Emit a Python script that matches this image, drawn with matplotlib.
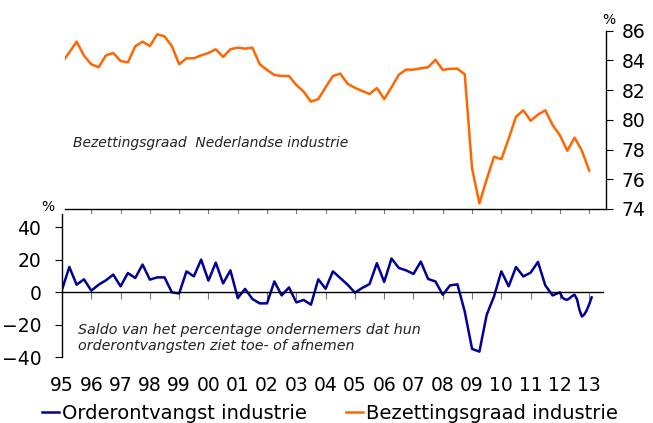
import numpy as np
import matplotlib
matplotlib.use('Agg')
import matplotlib.pyplot as plt
from matplotlib.lines import Line2D

# capacity utilisation, quarterly, 1995Q1 .. 2013Q1 (%)
bezetting = [83.85, 84.55, 85.26, 84.32, 83.74, 83.54, 84.34, 84.50, 83.96, 83.87,
             84.95, 85.26, 84.97, 85.76, 85.62, 84.97, 83.74, 84.14, 84.14, 84.34,
             84.50, 84.75, 84.23, 84.75, 84.86, 84.79, 84.86, 83.74, 83.36, 83.02,
             82.95, 82.95, 82.35, 81.90, 81.22, 81.40, 82.19, 82.95, 83.11, 82.43,
             82.16, 81.94, 81.74, 82.14, 81.40, 82.19, 83.04, 83.38, 83.38, 83.47,
             83.54, 84.04, 83.36, 83.44, 83.44, 83.07, 76.74, 74.38, 76.00, 77.52,
             77.35, 78.73, 80.21, 80.64, 79.94, 80.35, 80.64, 79.65, 78.96, 77.92,
             78.80, 77.92, 76.58]

# order intake balance, quarterly 1995Q1 .. 2011Q4
order_q = [1.4, 15.4, 4.5, 7.8, 0.8, 4.5, 7.2, 10.7, 3.5, 11.7,
           8.6, 16.9, 7.6, 9.0, 9.0, -0.2, -0.9, 12.7, 9.6, 19.9,
           7.0, 18.1, 5.3, 13.3, -3.7, 1.9, -4.3, -7.0, -7.0, 6.5,
           -2.1, 2.8, -6.4, -4.9, -7.8, 7.8, 2.0, 12.7, 8.6, 4.5,
           -0.4, 2.5, 4.9, 17.7, 6.2, 20.6, 14.8, 13.3, 11.1, 18.7,
           8.0, 6.5, -1.7, 4.1, 4.7, -12.0, -35.0, -36.7, -14.0, -2.7,
           12.7, 3.5, 15.4, 9.6, 11.9, 18.5, 4.1, -2.1]
# monthly 2012-01 .. 2013-02
order_m = [-0.2, -3.5, -4.5, -4.8, -3.8, -2.5, -1.7, -4.5, -11.0, -15.1,
           -13.8, -11.2, -7.5, -3.3]

bez_x = 1995 + np.arange(len(bezetting)) / 4
order_x = np.concatenate([1995 + np.arange(len(order_q)) / 4,
                          2012 + np.arange(len(order_m)) / 12])
order = order_q + order_m

years = np.arange(1995, 2014)
year_labels = ['%02d' % (y % 100) for y in years]

orange = '#FF6600'
blue = '#000099'
tickgrey = '#777777'

fig = plt.figure(figsize=(6.53, 4.23), dpi=100)

# upper panel
ax1 = fig.add_axes([65/653, 1-209/423, 541/653, 178.3/423])
ax1.plot(bez_x, bezetting, color=orange, lw=1.8)
ax1.set_xlim(1995 + 3/29.29, 1995 + 544/29.29)
ax1.set_ylim(74, 86)
for s in ['left', 'top']:
    ax1.spines[s].set_visible(False)
ax1.spines['bottom'].set_linewidth(1.0)
ax1.spines['right'].set_linewidth(1.0)
ax1.yaxis.tick_right()
ax1.set_yticks(range(74, 87, 2))
ax1.tick_params(axis='y', direction='out', length=5, pad=6, labelsize=13.5)
ax1.set_xticks(years[1:])
ax1.tick_params(axis='x', direction='out', length=5, color=tickgrey,
                labelbottom=False)
ax1.text(0.014, 0.37, 'Bezettingsgraad  Nederlandse industrie',
         transform=ax1.transAxes, style='italic', fontsize=10,
         ha='left', va='center', color='#222222')

# lower panel
ax2 = fig.add_axes([62/653, 1-357/423, 541/653, 143/423])
ax2.plot(order_x, order, color=blue, lw=1.8)
ax2.set_xlim(1995, 1995 + 541/29.29)
ax2.set_ylim(-40, 48)
ax2.spines['right'].set_visible(False)
ax2.spines['bottom'].set_visible(False)
ax2.spines['top'].set_position(('data', 0))
ax2.spines['top'].set_linewidth(1.0)
ax2.spines['left'].set_linewidth(1.0)
ax2.set_yticks(range(-40, 41, 20))
ax2.tick_params(axis='y', direction='out', length=5, pad=10, labelsize=13.5)
ax2.set_xticks(years)
ax2.set_xticklabels(year_labels)
ax2.tick_params(axis='x', top=True, bottom=False, direction='in', length=5,
                color=tickgrey, labelsize=13.5, pad=14, labeltop=False)
ax2.text(0.029, 0.133,
         'Saldo van het percentage ondernemers dat hun\norderontvangsten ziet toe- of afnemen',
         transform=ax2.transAxes, style='italic', fontsize=10.3,
         ha='left', va='center', linespacing=1.1, color='#222222')

fig.text(609/653, 1-20/423, '%', fontsize=10, ha='center', va='center')
fig.text(48/653, 1-207/423, '%', fontsize=10, ha='center', va='center')

handles = [Line2D([], [], color=blue, lw=1.8),
           Line2D([], [], color=orange, lw=1.8)]
fig.legend(handles, ['Orderontvangst industrie', 'Bezettingsgraad industrie'],
           loc='center left', bbox_to_anchor=(41.7/653, 1-413/423), ncol=2,
           frameon=False, fontsize=14, handlelength=0.9, handletextpad=0.15,
           columnspacing=2.0, borderpad=0, borderaxespad=0)

fig.savefig('out.png', dpi=100)
